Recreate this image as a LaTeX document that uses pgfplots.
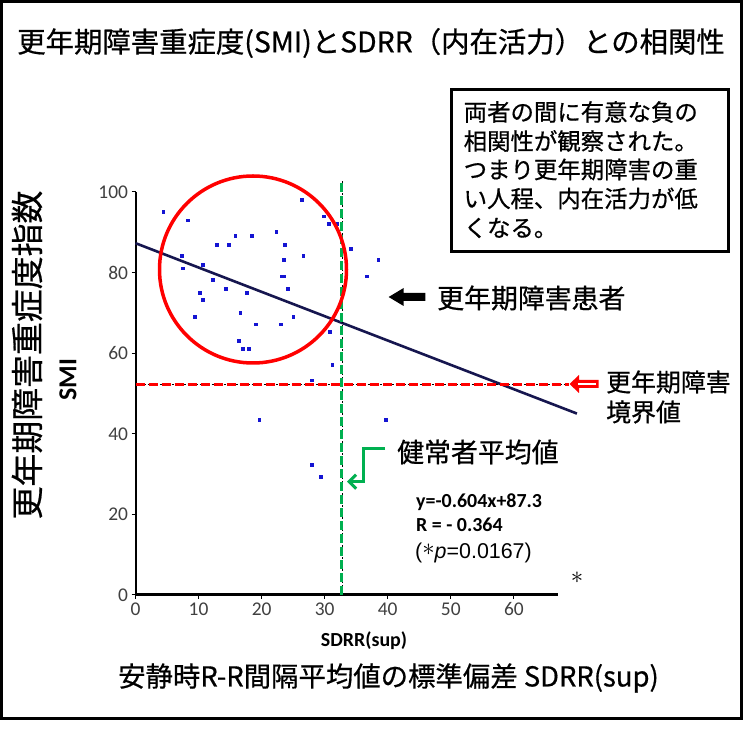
\documentclass[border=0pt]{standalone}
\usepackage{fontspec}
\usepackage{pgfplots}
\pgfplotsset{compat=1.18}
\usetikzlibrary{arrows.meta}
\newfontfamily\jp[FakeBold=0.6]{Noto Sans CJK JP}
\newfontfamily\calf{Carlito}
\newfontfamily\ari{Liberation Sans}
\definecolor{ptblue}{HTML}{1414D2}
\definecolor{navy}{HTML}{16164F}
\definecolor{grn}{HTML}{00B050}
\newcommand\fs[1]{\fontsize{#1}{#1}\selectfont}
\begin{document}
\begin{tikzpicture}
\begin{scope}[x=1bp,y=1bp,shift={(-135.5bp,-135bp)}]
\useasboundingbox (0,0) rectangle (748,730);
\fill[white] (0,0) rectangle (748,730);
\draw[line width=3bp] (1.5,11.5) rectangle (741.5,728.5);
\end{scope}
\begin{axis}[
  at={(0,0)}, anchor=south west,
  scale only axis, width=422.5bp, height=403bp,
  xmin=0, xmax=67, ymin=0, ymax=100,
  axis lines=left, axis line style={-},
  x axis line style={line width=3bp},
  y axis line style={line width=2bp},
  xtick={0,10,...,60}, ytick={0,20,...,100},
  tick align=outside, major tick length=4bp,
  tick style={black, line width=1bp},
  tick label style={font=\calf\fs{19.5}, text=black!75},
  /pgf/number format/assume math mode=true,
  clip=false,
]
\addplot[only marks, mark=square*, mark size=1.4bp, color=ptblue] coordinates {
(4.4,95.1) (8.3,93.0) (26.4,98.0) (29.9,94.0) (30.6,92.1) (32.0,92.1)
(15.8,89.1) (18.4,89.1) (22.3,90.1) (12.9,87.0) (14.8,87.0) (23.7,87.0)
(34.1,86.0) (7.3,84.1) (26.6,84.1) (38.5,83.2) (23.5,83.2) (7.5,81.1)
(10.6,82.0) (23.1,79.1) (23.5,79.1) (36.7,79.1) (12.2,78.2) (14.3,76.0)
(17.6,75.1) (24.1,76.0) (10.2,75.1) (10.6,73.2) (9.4,69.1) (16.6,70.0)
(25.0,69.1) (19.1,67.2) (23.0,67.2) (30.8,65.3) (16.4,63.1) (17.0,61.2)
(17.9,61.2) (31.2,57.2) (27.9,53.3) (19.6,43.4) (39.7,43.4) (28.0,32.4)
(29.4,29.3)
};
\addplot[navy, line width=2.6bp] coordinates {(0,87.3) (70,45.02)};
\addplot[black, line width=0.6bp, dash pattern=on 2bp off 2bp] coordinates {(0,52.2) (68.8,52.2)};
\addplot[red, line width=2.5bp, dash pattern=on 9bp off 4bp] coordinates {(0,52.2) (68.8,52.2)};
\addplot[black, line width=0.6bp, dash pattern=on 2bp off 2bp] coordinates {(32.85,0) (32.85,103)};
\addplot[grn, line width=3bp, dash pattern=on 9bp off 4bp] coordinates {(32.6,0) (32.6,103)};
\end{axis}
\begin{scope}[x=1bp,y=1bp,shift={(-135.5bp,-135bp)}]
% circle
\draw[red, line width=3.5bp] (253,460.5) circle (93.5);
% title
\node[anchor=west, inner sep=0] at (17,687) {\jp\fs{28.5}更年期障害重症度(SMI)とSDRR（内在活力）との相関性};
% text box
\draw[line width=3bp] (451.7,478.3) rectangle (728.6,640);
\node[anchor=west, inner sep=0] at (463.5,618) {\jp\fs{23.5}両者の間に有意な負の};
\node[anchor=west, inner sep=0] at (463.5,589) {\jp\fs{23.5}相関性が観察された。};
\node[anchor=west, inner sep=0] at (463.5,560.5) {\jp\fs{23.5}つまり更年期障害の重};
\node[anchor=west, inner sep=0] at (463.5,531.5) {\jp\fs{23.5}い人程、内在活力が低};
\node[anchor=west, inner sep=0] at (463.5,502) {\jp\fs{23.5}くなる。};
% black arrow
\fill[black] (388.6,433) -- (403.6,442) -- (403.6,437) -- (425.4,437) -- (425.4,429) -- (403.6,429) -- (403.6,424) -- cycle;
\node[anchor=west, inner sep=0] at (437,432) {\jp\fs{27}更年期障害患者};
% red arrow
\fill[red] (569.5,346) -- (579,355) -- (579,350) -- (598.6,350) -- (598.6,342) -- (579,342) -- (579,337) -- cycle;
\draw[white, line width=2bp] (578,346) -- (596,346);
\node[anchor=west, inner sep=0] at (606,348) {\jp\fs{25}更年期障害};
\node[anchor=west, inner sep=0] at (606,318) {\jp\fs{25}境界値};
% green arrow
\draw[grn, line width=3bp, line join=miter, -{Straight Barb[length=7bp,width=14bp]}] (385.2,281) -- (363.5,281) -- (363.5,248.3) -- (347,248.3);
\node[anchor=west, inner sep=0] at (397,278) {\jp\fs{27}健常者平均値};
% regression text
\node[anchor=west, inner sep=0] at (416,228) {\calf\bfseries\fs{20}y=-0.604x+87.3};
\node[anchor=west, inner sep=0] at (416,205) {\calf\bfseries\fs{20}R = - 0.364};
\node[anchor=west, inner sep=0] at (415,177) {\ari\fs{21.5}(\raisebox{3bp}[0pt][0pt]{\fs{24}$\ast$}\textit{p}=0.0167)};
\node[inner sep=0] at (577,152) {\fs{32}$\ast$};
% axis labels
\node[rotate=90, inner sep=0] at (68,350) {\calf\bfseries\fs{26}SMI};
\node[rotate=90, inner sep=0] at (27,375) {\jp\fs{33}更年期障害重症度指数};
\node[inner sep=0] at (364,89) {\calf\bfseries\fs{20}SDRR(sup)};
\node[anchor=west, inner sep=0] at (118,52) {\jp\fs{27.5}安静時R-R間隔平均値の標準偏差 SDRR(sup)};
\end{scope}
\end{tikzpicture}
\end{document}
